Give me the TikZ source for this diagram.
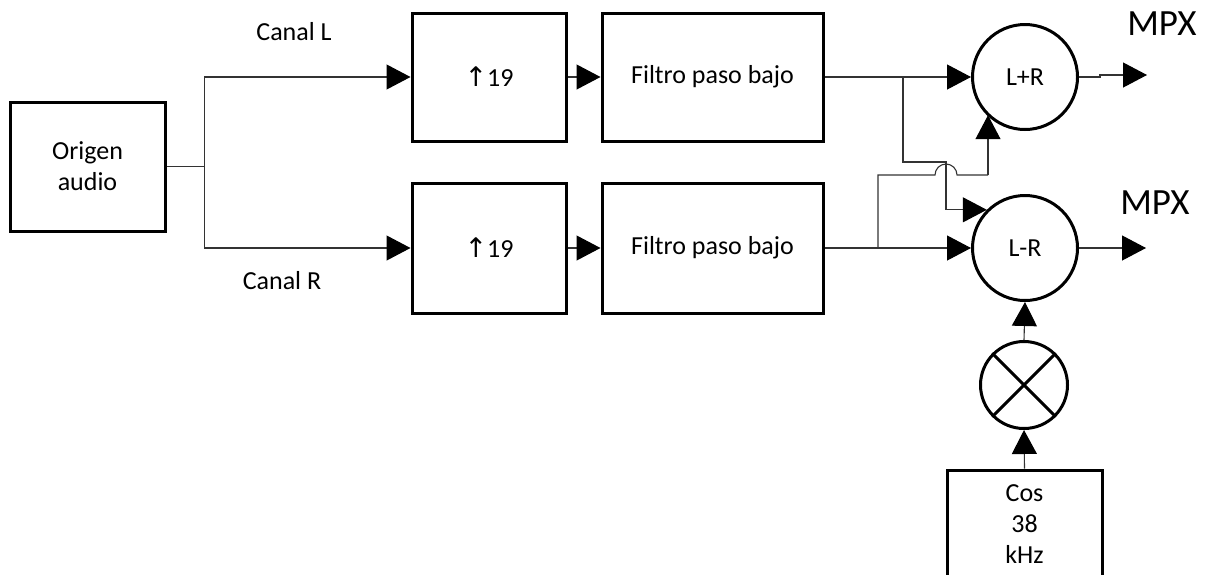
\documentclass[tikz,border=0pt]{standalone}
\usepackage{fontspec}
\setmainfont{Carlito}
\newfontfamily\arrowfont{DejaVu Sans}
\usetikzlibrary{arrows.meta}
\begin{document}
\begin{tikzpicture}[x=1pt,y=-1pt,
  blk/.style={draw=black, line width=3pt, rectangle, inner sep=0pt, align=center,
              font=\fontsize{26}{31}\selectfont},
  sumnode/.style={draw=black, line width=3pt, circle, inner sep=0pt, minimum size=105pt,
              font=\fontsize{26}{31}\selectfont},
  mulnode/.style={draw=black, line width=3pt, circle, inner sep=0pt, minimum size=87pt},
  conn/.style={draw=black!80, line width=1.1pt},
  arr/.style={conn, -{Triangle[length=24pt,width=25pt,color=black]}},
  lbl/.style={font=\fontsize{26}{31}\selectfont, inner sep=0pt},
  mpx/.style={font=\fontsize{37}{40}\selectfont, inner sep=0pt}]
\useasboundingbox (0,0) rectangle (1209,574);

% blocks
\node[blk, minimum width=155pt, minimum height=129pt] (origen) at (87.5,166.5) {Origen\\audio};
\node[blk, minimum width=154pt, minimum height=128pt] (up1) at (489,77) {{\arrowfont\fontsize{27}{31}\selectfont ↑}19};
\node[blk, minimum width=221pt, minimum height=128pt] (filt1) at (712.5,77) {Filtro paso bajo};
\node[blk, minimum width=154pt, minimum height=130pt] (up2) at (489,248) {{\arrowfont\fontsize{27}{31}\selectfont ↑}19};
\node[blk, minimum width=221pt, minimum height=130pt] (filt2) at (712.5,248) {Filtro paso bajo};
\node[sumnode] (sum) at (1025,77) {L+R};
\node[sumnode] (dif) at (1025,248) {L-R};
\node[mulnode] (mult) at (1024,385) {};
\draw[line width=3pt] (mult.north east) -- (mult.south west) (mult.north west) -- (mult.south east);
\node[blk, minimum width=155pt, minimum height=108pt] (cos) at (1024.5,524) {Cos\\38\\kHz};

% labels
\node[lbl] (canL) at (294,32) {Canal L};
\node[lbl] (canR) at (282,281) {Canal R};
\node[mpx] (mpx1) at (1162,24) {MPX};
\node[mpx] (mpx2) at (1155,203) {MPX};

% connectors
\draw[conn] (origen.east) -- ++(38,0) coordinate (j0);
\draw[arr] (j0) |- (up1.west);
\draw[arr] (j0) |- (up2.west);
\draw[arr] (up1.east) -- (filt1.west);
\draw[arr] (up2.east) -- (filt2.west);
\draw[arr] (filt1.east) -- (sum.west);
\draw[arr] (filt2.east) -- (dif.west);

\coordinate (b1) at (903,77);
\coordinate (k1) at (946,162);
\draw[arr] (b1) |- (k1) |- (dif.135.7);

\coordinate (b2) at (878,248);
\coordinate (h1) at (935,175);
\coordinate (h2) at (988,175);
\draw[conn] (b2) |- (h1) arc[start angle=180, end angle=360, radius=11] -- (h2);
\draw[arr] (h2) -- (h2 |- sum.225.7);

\coordinate (o1) at (1147,75);
\coordinate (o2) at (1146,248);
\draw[arr] (sum.east) -- (1100,77) -- (1100,75) -- (o1);
\draw[arr] (dif.east) -- (o2);
\draw[arr] (mult.north) -- (dif.south);
\draw[arr] (cos.north) -- (mult.south);
\end{tikzpicture}
\end{document}
